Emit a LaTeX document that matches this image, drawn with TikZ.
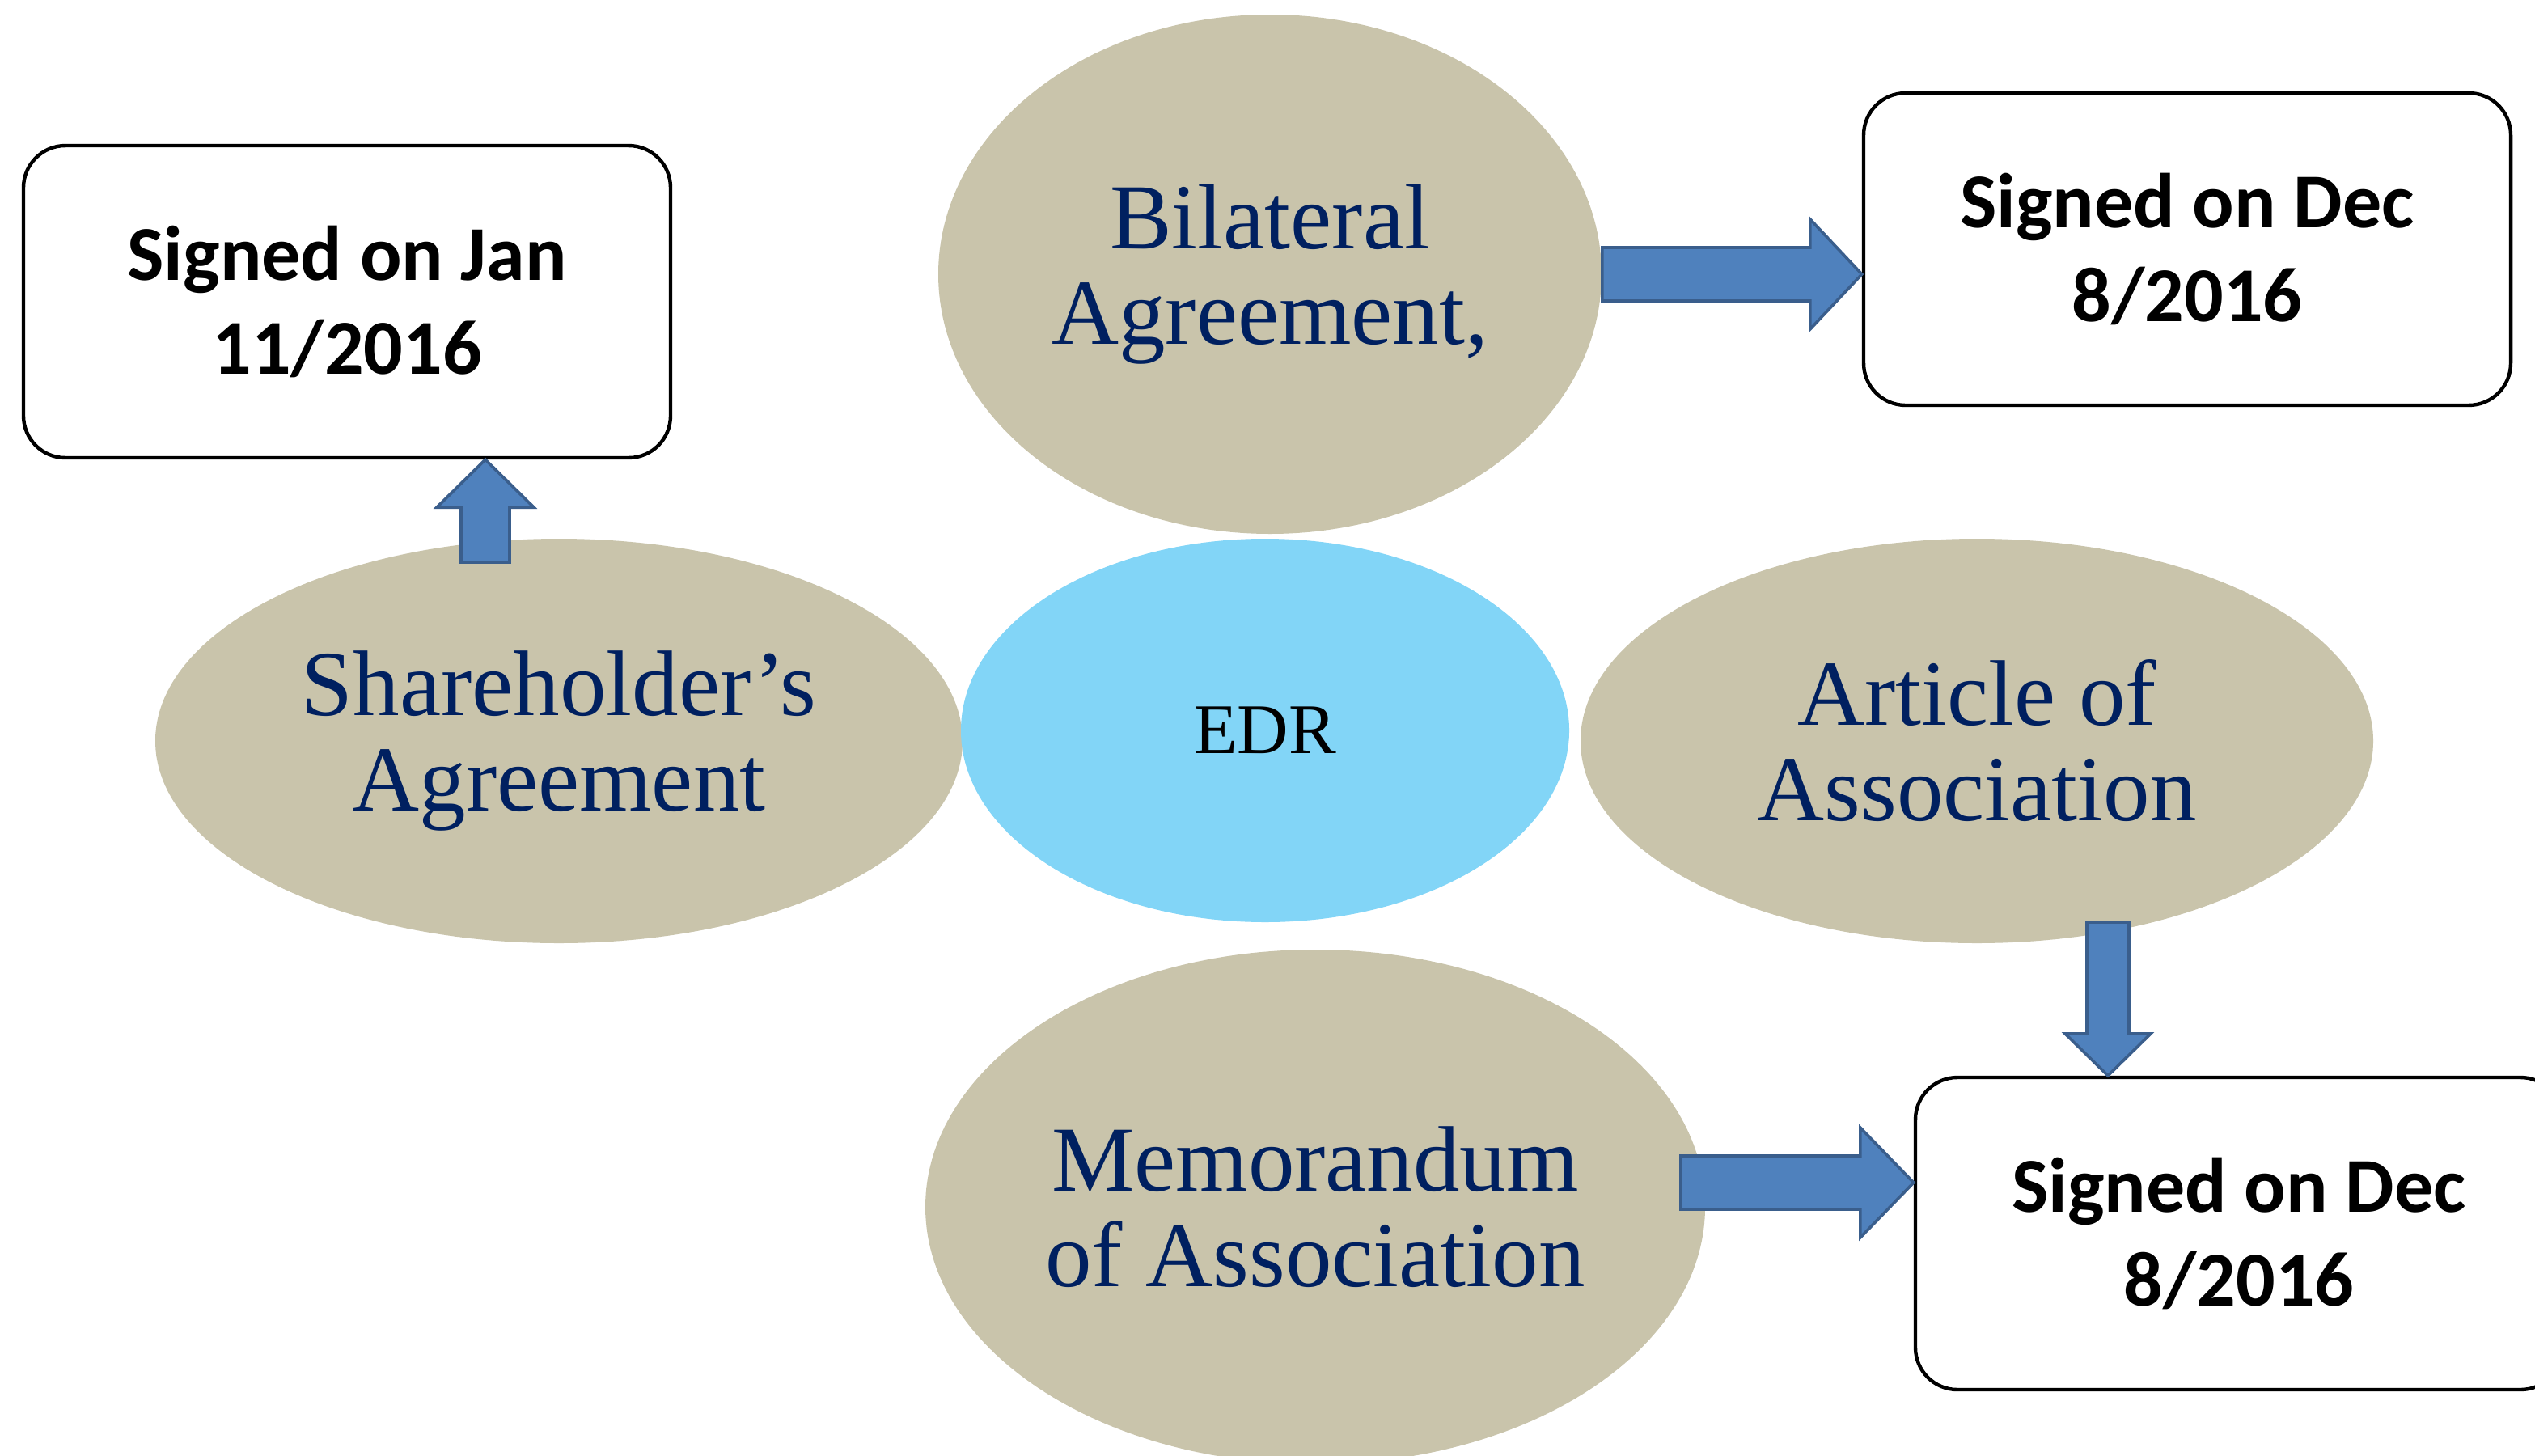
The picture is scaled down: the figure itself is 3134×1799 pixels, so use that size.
\documentclass[tikz,border=0pt]{standalone}
\usepackage{fontspec}
\setmainfont{Liberation Serif}
\newfontfamily\boxfont{Carlito}
\usetikzlibrary{shapes.geometric,calc}

\definecolor{docbeige}{HTML}{C9C4AB}
\definecolor{docnavy}{HTML}{002060}
\definecolor{edrblue}{HTML}{82D5F7}
\definecolor{arrowfill}{HTML}{4F81BD}
\definecolor{arrowline}{HTML}{3A5E8C}

% block arrow: #1 start, #2 tip, #3 shaft half width, #4 head half width, #5 head length
\newcommand\blockarrow[5]{%
  \coordinate (ba-h) at ($(#2)!#5!(#1)$);
  \draw[blockarrowstyle]
    ($(#1)!#3!90:(#2)$) -- ($(ba-h)!#3!90:(#2)$) -- ($(ba-h)!#4!90:(#2)$) --
    (#2) -- ($(ba-h)!#4!-90:(#2)$) -- ($(ba-h)!#3!-90:(#2)$) --
    ($(#1)!#3!-90:(#2)$) -- cycle;
}

\tikzset{
  docellipse/.style={ellipse, fill=docbeige, draw=none, inner sep=0pt,
    align=center, text=docnavy, font=\fontsize{28.75}{29.5}\selectfont},
  hubellipse/.style={ellipse, fill=edrblue, draw=none, inner sep=0pt,
    font=\fontsize{22}{26}\selectfont},
  datebox/.style={rectangle, rounded corners=13pt, draw=black, line width=1.1pt,
    fill=white, minimum width=200pt, minimum height=96.5pt, inner sep=0pt,
    align=center, font=\boxfont\bfseries\fontsize{24}{29}\selectfont},
  blockarrowstyle/.style={fill=arrowfill, draw=arrowline, line width=0.9pt,
    line join=miter},
}

\begin{document}
\begin{tikzpicture}[x=0.25pt, y=-0.25pt]
  \useasboundingbox (0,0) rectangle (3134,1799);
  \fill[white] (0,0) rectangle (3134,1799);
  \clip (0,0) rectangle (3134,1799);

  % documents around the hub
  \node[docellipse, minimum width=205pt, minimum height=160.5pt] (bil) at (1570,339)
    {Bilateral\\Agreement,};
  \node[docellipse, minimum width=249.5pt, minimum height=125pt] (sha) at (691,916)
    {Shareholder’s\\Agreement};
  \node[hubellipse, minimum width=188pt, minimum height=118.5pt] (edr) at (1564,903) {EDR};
  \node[docellipse, minimum width=245pt, minimum height=125pt] (art) at (2444,916)
    {Article of\\Association};
  \node[docellipse, minimum width=241pt, minimum height=159pt] (mem) at (1626,1492)
    {Memorandum\\of Association};

  % signing dates
  \node[datebox] (jan) at (429,373) {Signed on Jan\\11/2016};
  \node[datebox] (dec1) at (2704,308) {Signed on Dec\\8/2016};
  \node[datebox] (dec2) at (2768,1525) {Signed on Dec\\8/2016};

  % arrows from the documents to their dates
  \coordinate (t1) at (bil.east -| dec1.west);
  \blockarrow{bil.east}{t1}{8.25pt}{17pt}{16pt}

  \coordinate (s2) at (600,695);
  \coordinate (t2) at (s2 |- jan.south);
  \blockarrow{s2}{t2}{7.5pt}{15pt}{14.75pt}

  \coordinate (s3) at (2606,1140);
  \coordinate (t3) at (s3 |- dec2.north);
  \blockarrow{s3}{t3}{6.5pt}{13.25pt}{13pt}

  \coordinate (s4) at (2078,1462);
  \coordinate (t4) at (s4 -| dec2.west);
  \blockarrow{s4}{t4}{8.25pt}{17pt}{16.5pt}
\end{tikzpicture}
\end{document}
